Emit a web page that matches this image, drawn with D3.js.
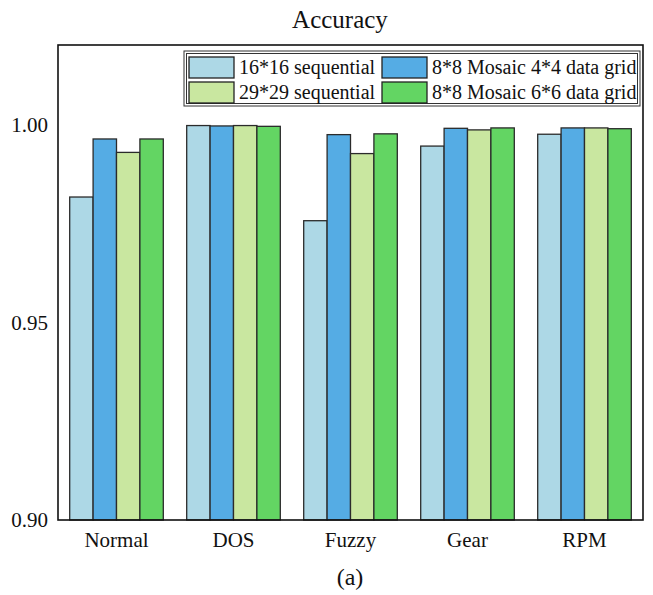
<!DOCTYPE html>
<html>
<head>
<meta charset="utf-8">
<script src="https://cdn.jsdelivr.net/npm/d3@7"></script>
<style>
  html, body { margin: 0; padding: 0; background: #fff; }
  svg { display: block; font-family: "Liberation Serif", "Times New Roman", serif; }
</style>
</head>
<body>
<svg id="chart" width="653" height="595"></svg>
<script>
// Accuracy per attack class for four input layouts
const categories = ["Normal", "DOS", "Fuzzy", "Gear", "RPM"];
const seriesNames = [
  "16*16 sequential",
  "8*8 Mosaic 4*4 data grid",
  "29*29 sequential",
  "8*8 Mosaic 6*6 data grid"
];
const seq16 = [0.9818, 0.9999, 0.9758, 0.9947, 0.9977];
const mosaic44 = [0.9965, 0.9998, 0.9976, 0.9992, 0.9993];
const seq29 = [0.9931, 0.9999, 0.9928, 0.9988, 0.9993];
const mosaic66 = [0.9965, 0.9997, 0.9978, 0.9993, 0.9991];
const yTicks = [0.90, 0.95, 1.00];
const colors = ["#ADD8E6", "#55ACE4", "#C9E7A0", "#63D563"];

const seriesValues = [seq16, mosaic44, seq29, mosaic66];
const serif = "Liberation Serif, Times New Roman, serif";

const svg = d3.select("#chart");
const plotLeft = 58, plotRight = 643, plotTop = 45, plotBottom = 520;

const x = d3.scaleBand()
  .domain(categories)
  .range([plotLeft, plotRight])
  .paddingInner(0)
  .paddingOuter(0);

const xSub = d3.scaleBand()
  .domain(d3.range(seriesNames.length))
  .range([0, x.bandwidth()])
  .paddingOuter(0.5)
  .paddingInner(0);

const y = d3.scaleLinear()
  .domain([0.90, 1.0203])
  .range([plotBottom, plotTop]);

// Title
svg.append("text")
  .attr("x", 340).attr("y", 28)
  .attr("text-anchor", "middle")
  .attr("font-size", 25)
  .attr("fill", "#111")
  .text("Accuracy");

// Bars
const groups = svg.append("g")
  .selectAll("g")
  .data(categories)
  .join("g")
  .attr("transform", d => `translate(${x(d)},0)`);

groups.selectAll("rect")
  .data((d, i) => seriesValues.map((vals, s) => ({ s, v: vals[i] })))
  .join("rect")
  .attr("x", d => xSub(d.s))
  .attr("width", xSub.bandwidth())
  .attr("y", d => y(d.v))
  .attr("height", d => plotBottom - y(d.v))
  .attr("fill", d => colors[d.s])
  .attr("stroke", "#2b2b2b")
  .attr("stroke-width", 1.3);

// Y axis labels (no tick marks)
const yAxis = d3.axisLeft(y)
  .tickValues(yTicks)
  .tickFormat(d3.format(".2f"))
  .tickSize(0)
  .tickPadding(10);
const yg = svg.append("g")
  .attr("transform", `translate(${plotLeft},0)`)
  .call(yAxis);
yg.select(".domain").remove();
yg.selectAll("text")
  .attr("font-size", 21)
  .attr("font-family", serif)
  .attr("fill", "#111");

// X axis labels
const xAxis = d3.axisBottom(x).tickSize(0).tickPadding(12);
const xg = svg.append("g")
  .attr("transform", `translate(0,${plotBottom})`)
  .call(xAxis);
xg.select(".domain").remove();
xg.selectAll("text")
  .attr("font-size", 21)
  .attr("font-family", serif)
  .attr("fill", "#111");

// Frame
svg.append("rect")
  .attr("x", plotLeft).attr("y", plotTop)
  .attr("width", plotRight - plotLeft)
  .attr("height", plotBottom - plotTop)
  .attr("fill", "none")
  .attr("stroke", "#111")
  .attr("stroke-width", 1.6);

// Legend
const legend = svg.append("g").attr("transform", "translate(184,51)");
legend.append("rect")
  .attr("x", 0).attr("y", 0).attr("width", 456).attr("height", 55)
  .attr("fill", "#fff").attr("stroke", "#333").attr("stroke-width", 1);
legend.append("rect")
  .attr("x", 2.5).attr("y", 2.5).attr("width", 451).attr("height", 50)
  .attr("fill", "none").attr("stroke", "#333").attr("stroke-width", 1);

const legendPos = [
  { col: 0, row: 0 }, { col: 1, row: 0 }, { col: 0, row: 1 }, { col: 1, row: 1 }
];
const colX = [5, 198];
const rowY = [5, 30];
seriesNames.forEach((name, i) => {
  const p = legendPos[i];
  const g = legend.append("g")
    .attr("transform", `translate(${colX[p.col]},${rowY[p.row]})`);
  g.append("rect")
    .attr("x", 0).attr("y", 1).attr("width", 45).attr("height", 21)
    .attr("fill", colors[i]).attr("stroke", "#222").attr("stroke-width", 1.3);
  g.append("text")
    .attr("x", 50).attr("y", 18)
    .attr("font-size", 20)
    .attr("fill", "#111")
    .text(name);
});

// Caption
svg.append("text")
  .attr("x", 350).attr("y", 585)
  .attr("text-anchor", "middle")
  .attr("font-size", 24)
  .attr("fill", "#111")
  .text("(a)");
</script>
</body>
</html>
